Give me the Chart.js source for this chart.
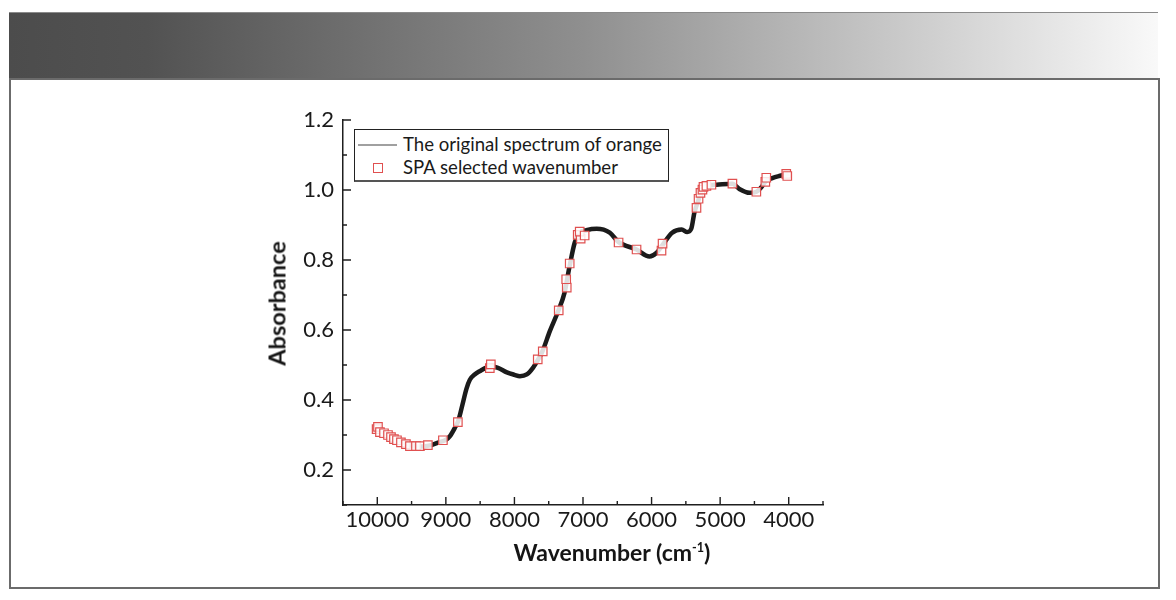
<!DOCTYPE html>
<html>
<head>
<meta charset="utf-8">
<script src="https://cdn.jsdelivr.net/npm/chart.js@4.4.1/dist/chart.umd.min.js"></script>
<style>
  html, body { margin:0; padding:0; background:#fff; width:1176px; height:600px; overflow:hidden; font-family: Lato, "DejaVu Sans", sans-serif; }
  #hdr { position:absolute; left:9px; top:12px; width:1149px; height:66px; box-sizing:border-box;
         background: linear-gradient(to right, #4c4c4c 0%, #525252 12%, #8f8f8f 50%, #f9f9f9 100%);
         border-top:1px solid #8a8a8a; }
  #box { position:absolute; left:9px; top:78px; width:1151px; height:511px; box-sizing:border-box;
         border:2px solid #6b6b6b; background:#fff; }
  #wrap { position:absolute; left:0; top:0; width:1176px; height:600px; }
  #legend { position:absolute; left:354px; top:129px; width:315px; height:53px; box-sizing:border-box;
            border:1px solid #222; border-bottom:2px solid #555; background:#fff; font-family: Lato, sans-serif;
            font-size:18.6px; color:#1a1a1a; }
  .row { position:absolute; left:0; height:22px; line-height:22px; }
  .txt { position:absolute; left:48px; white-space:nowrap; }
  .ln { position:absolute; left:3px; top:11px; width:39px; height:2px; background:#a0a0a0; }
  .sq { position:absolute; left:18px; top:7px; width:8px; height:8px; border:1.3px solid #e05050; background:#fff; }
  .atitle { position:absolute; font-family: Lato, sans-serif; font-weight:bold; color:#151515; white-space:nowrap; text-align:center; }
  #xtitle { left:412px; top:541px; width:400px; height:23px; line-height:23px; font-size:23px; }
  #xtitle sup { font-size:0.55em; vertical-align:0.75em; line-height:0; }
  #ytitle { left:176.5px; top:292px; width:200px; height:23px; line-height:23px; font-size:23.5px; transform:rotate(-90deg); }
</style>
</head>
<body>
<div id="hdr"></div>
<div id="box"></div>
<div id="wrap"><canvas id="c" width="1176" height="600"></canvas></div>
<div id="legend">
  <div class="row" style="top:3px;"><div class="ln"></div><span class="txt">The original spectrum of orange</span></div>
  <div class="row" style="top:26px;"><div class="sq"></div><span class="txt">SPA selected wavenumber</span></div>
</div>
<div id="xtitle" class="atitle">Wavenumber (cm<sup>-1</sup>)</div>
<div id="ytitle" class="atitle">Absorbance</div>
<script>
// ---- data ----
const wavenumbers = [10000, 9900, 9800, 9700, 9600, 9500, 9400, 9300, 9200, 9100, 9000, 8940, 8870, 8820, 8760, 8700, 8650, 8580, 8500, 8400, 8320, 8240, 8110, 8000, 7920, 7820, 7730, 7660, 7590, 7485, 7360, 7270, 7200, 7120, 7050, 6950, 6800, 6610, 6480, 6220, 6030, 5930, 5850, 5700, 5560, 5480, 5420, 5375, 5315, 5290, 5200, 5050, 4820, 4720, 4570, 4470, 4400, 4340, 4240, 4140, 4020, 4000];
const absorbance = [0.318, 0.305, 0.295, 0.285, 0.277, 0.270, 0.267, 0.268, 0.272, 0.279, 0.286, 0.297, 0.320, 0.340, 0.385, 0.432, 0.458, 0.473, 0.483, 0.493, 0.495, 0.492, 0.479, 0.472, 0.468, 0.473, 0.492, 0.514, 0.540, 0.596, 0.655, 0.706, 0.778, 0.850, 0.877, 0.885, 0.889, 0.878, 0.851, 0.830, 0.810, 0.820, 0.840, 0.878, 0.887, 0.880, 0.890, 0.936, 0.972, 0.990, 1.011, 1.015, 1.018, 1.003, 0.992, 0.995, 1.008, 1.024, 1.034, 1.040, 1.045, 1.046];

const spaWavenumbers = [10010, 9990, 9961, 9902, 9844, 9800, 9757, 9713, 9655, 9582, 9524, 9436, 9378, 9262, 9043, 8825, 8359, 8344, 7660, 7587, 7354, 7237, 7245, 7194, 7077, 7034, 7048, 6976, 6481, 6219, 5855, 5840, 5345, 5315, 5287, 5258, 5243, 5200, 5127, 4821, 4472, 4341, 4327, 4036, 4021];
const spaAbsorbance = [0.317, 0.323, 0.308, 0.305, 0.300, 0.294, 0.288, 0.285, 0.279, 0.274, 0.268, 0.268, 0.268, 0.271, 0.285, 0.337, 0.491, 0.502, 0.516, 0.539, 0.656, 0.721, 0.745, 0.790, 0.872, 0.861, 0.881, 0.870, 0.850, 0.830, 0.827, 0.847, 0.949, 0.975, 0.992, 1.001, 1.009, 1.012, 1.015, 1.018, 0.995, 1.023, 1.035, 1.046, 1.040];

const xTickValues = [4000, 5000, 6000, 7000, 8000, 9000, 10000];
const xMinorTicks = [3500, 4500, 5500, 6500, 7500, 8500, 9500, 10500];
const yTickValues = [0.2, 0.4, 0.6, 0.8, 1.0, 1.2];
const yMinorTicks = [0.1, 0.3, 0.5, 0.7, 0.9, 1.1];

const axisColor = '#1e1e1e';

const innerTicks = {
  id: 'innerTicks',
  afterDraw(chart) {
    const {ctx, chartArea} = chart;
    const xs = chart.scales.x, ys = chart.scales.y;
    ctx.save();
    ctx.strokeStyle = axisColor;
    ctx.lineWidth = 1.4;
    ctx.beginPath();
    const bottom = chartArea.bottom, left = chartArea.left;
    xTickValues.forEach(v => { const p = xs.getPixelForValue(v); ctx.moveTo(p, bottom); ctx.lineTo(p, bottom - 8); });
    xMinorTicks.forEach(v => { const p = xs.getPixelForValue(v); ctx.moveTo(p, bottom); ctx.lineTo(p, bottom - 4); });
    yTickValues.forEach(v => { const p = ys.getPixelForValue(v); ctx.moveTo(left, p); ctx.lineTo(left + 8, p); });
    yMinorTicks.forEach(v => { const p = ys.getPixelForValue(v); ctx.moveTo(left, p); ctx.lineTo(left + 4, p); });
    ctx.stroke();
    ctx.restore();
  }
};

const tickFont = { family: 'Lato, sans-serif', size: 22 };

new Chart(document.getElementById('c'), {
  type: 'line',
  data: {
    datasets: [
      {
        label: 'SPA selected wavenumber',
        type: 'scatter',
        data: spaWavenumbers.map((w, i) => ({ x: w, y: spaAbsorbance[i] })),
        pointStyle: 'rect',
        pointRadius: 6,
        borderColor: '#e05050',
        backgroundColor: 'rgba(255,255,255,0.85)',
        borderWidth: 1.2,
        showLine: false,
        order: 0
      },
      {
        label: 'The original spectrum of orange',
        data: wavenumbers.map((w, i) => ({ x: w, y: absorbance[i] })),
        borderColor: '#1b1b1b',
        borderWidth: 4.5,
        pointRadius: 0,
        cubicInterpolationMode: 'monotone',
        fill: false,
        order: 1
      }
    ]
  },
  options: {
    responsive: false,
    animation: false,
    devicePixelRatio: 1,
    layout: { padding: { left: 261, top: 120, right: 353, bottom: 33 } },
    plugins: { legend: { display: false }, tooltip: { enabled: false } },
    scales: {
      x: {
        type: 'linear',
        min: 3500, max: 10500,
        reverse: true,
        afterBuildTicks: s => { s.ticks = xTickValues.map(v => ({ value: v })); },
        afterFit: s => { s.height = 62; },
        grid: { display: false, drawTicks: false },
        border: { display: true, color: axisColor, width: 1.5 },
        ticks: { font: tickFont, color: '#1a1a1a', padding: 2, maxRotation: 0, autoSkip: false, callback: v => String(v) },
        title: { display: false }
      },
      y: {
        type: 'linear',
        min: 0.1, max: 1.2,
        afterBuildTicks: s => { s.ticks = yTickValues.map(v => ({ value: v })); },
        afterFit: s => { s.width = 82; },
        grid: { display: false, drawTicks: false },
        border: { display: true, color: axisColor, width: 1.5 },
        ticks: { font: tickFont, color: '#1a1a1a', padding: 9, autoSkip: false, callback: v => Number(v).toFixed(1) },
        title: { display: false }
      }
    }
  },
  plugins: [innerTicks]
});
</script>
</body>
</html>
